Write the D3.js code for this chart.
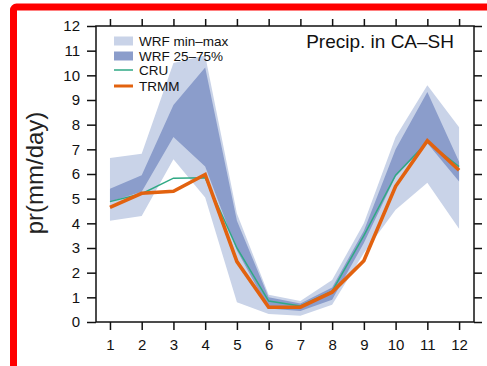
<!DOCTYPE html>
<html><head><meta charset="utf-8">
<script src="https://cdn.jsdelivr.net/npm/d3@7"></script>
<style>body{margin:0;background:#fff}svg{display:block}</style>
</head><body>
<svg id="c" width="487" height="366"></svg>
<script>
const months = [1,2,3,4,5,6,7,8,9,10,11,12];
const wrfMin = [4.1,4.3,6.6,5.05,0.8,0.32,0.25,0.7,2.8,4.55,5.65,3.78];
const wrfMax = [6.65,6.82,10.5,10.8,4.4,1.1,0.85,1.7,4.0,7.5,9.6,7.9];
const wrf25 = [4.88,5.28,7.5,6.3,2.9,0.55,0.45,0.9,3.2,5.9,7.25,5.7];
const wrf75 = [5.4,5.95,8.8,10.32,4.1,1.0,0.75,1.4,3.7,7.0,9.32,6.5];
const cru = [4.88,5.2,5.83,5.85,3.0,0.85,0.65,1.25,3.5,5.95,7.3,6.3];
const trmm = [4.65,5.22,5.3,5.98,2.45,0.6,0.6,1.21,2.48,5.5,7.35,6.15];
const yTicks = [0,1,2,3,4,5,6,7,8,9,10,11,12];
const legendLabels = ["WRF min\u2013max","WRF 25\u201375%","CRU","TRMM"];
const title = "Precip. in CA\u2013SH";
const yTitle = "pr(mm/day)";

const C = {light:"#c9d3e8", dark:"#8b9dcb", cru:"#2fa984", trmm:"#e2620f", axis:"#111"};
const L=96, R=474, T=26, B=322;
const svg = d3.select("#c");
const font = "'Liberation Sans', Arial, Helvetica, sans-serif";

// red frame
svg.append("rect").attr("x",13.5).attr("y",7).attr("width",520).attr("height",420)
  .attr("rx",3).attr("fill","none").attr("stroke","#ff0000").attr("stroke-width",7);

const x = d3.scaleLinear().domain([0.56,12.47]).range([L,R]);
const y = d3.scaleLinear().domain([0,12]).range([B,T]);

const idx = d3.range(months.length);
const area = (lo,hi) => d3.area().x(i=>x(months[i])).y0(i=>y(lo[i])).y1(i=>y(hi[i]));
svg.append("path").datum(idx).attr("d",area(wrfMin,wrfMax)).attr("fill",C.light);
svg.append("path").datum(idx).attr("d",area(wrf25,wrf75)).attr("fill",C.dark);
const line = arr => d3.line().x(i=>x(months[i])).y(i=>y(arr[i]));
svg.append("path").datum(idx).attr("d",line(cru)).attr("fill","none").attr("stroke",C.cru).attr("stroke-width",1.5);
svg.append("path").datum(idx).attr("d",line(trmm)).attr("fill","none").attr("stroke",C.trmm).attr("stroke-width",3.6).attr("stroke-linejoin","miter");

// axes
function styleAxis(g){
  g.select(".domain").remove();
  g.selectAll("line").attr("stroke",C.axis).attr("stroke-width",1.5);
  g.selectAll("text").attr("font-family",font).attr("font-size",15).attr("fill","#111");
}
svg.append("g").attr("transform",`translate(${L},0)`).call(d3.axisLeft(y).tickValues(yTicks).tickSize(9).tickPadding(7).tickFormat(d3.format("d"))).call(styleAxis);
svg.append("g").attr("transform",`translate(${R},0)`).call(d3.axisRight(y).tickValues(yTicks).tickSize(8).tickFormat("")).call(styleAxis);
svg.append("g").attr("transform",`translate(0,${B})`).call(d3.axisBottom(x).tickValues(months).tickSize(8).tickPadding(9).tickFormat(d3.format("d"))).call(styleAxis);
svg.append("g").attr("transform",`translate(0,${T})`).call(d3.axisTop(x).tickValues(months).tickSize(7).tickFormat("")).call(styleAxis);
svg.append("rect").attr("x",L).attr("y",T).attr("width",R-L).attr("height",B-T)
  .attr("fill","none").attr("stroke",C.axis).attr("stroke-width",1.5);

// titles
svg.append("text").attr("x",454).attr("y",48).attr("text-anchor","end")
  .attr("font-family",font).attr("font-size",19).attr("fill","#111").text(title);
svg.append("text").attr("transform","translate(43,173) rotate(-90)").attr("text-anchor","middle")
  .attr("font-family",font).attr("font-size",24).attr("fill","#222").text(yTitle);

// legend
const ly = [41,56,70,86];
const lg = svg.append("g");
lg.append("rect").attr("x",114).attr("y",ly[0]-4.5).attr("width",19).attr("height",9).attr("fill",C.light);
lg.append("rect").attr("x",114).attr("y",ly[1]-4.5).attr("width",19).attr("height",9).attr("fill",C.dark);
lg.append("line").attr("x1",114).attr("x2",133).attr("y1",ly[2]).attr("y2",ly[2]).attr("stroke",C.cru).attr("stroke-width",1.5);
lg.append("line").attr("x1",114).attr("x2",133).attr("y1",ly[3]).attr("y2",ly[3]).attr("stroke",C.trmm).attr("stroke-width",3);
legendLabels.forEach((t,i)=>{
  lg.append("text").attr("x",139).attr("y",ly[i]+4.5).attr("font-family",font)
    .attr("font-size",13.5).attr("fill","#111").text(t);
});
</script>
</body></html>
